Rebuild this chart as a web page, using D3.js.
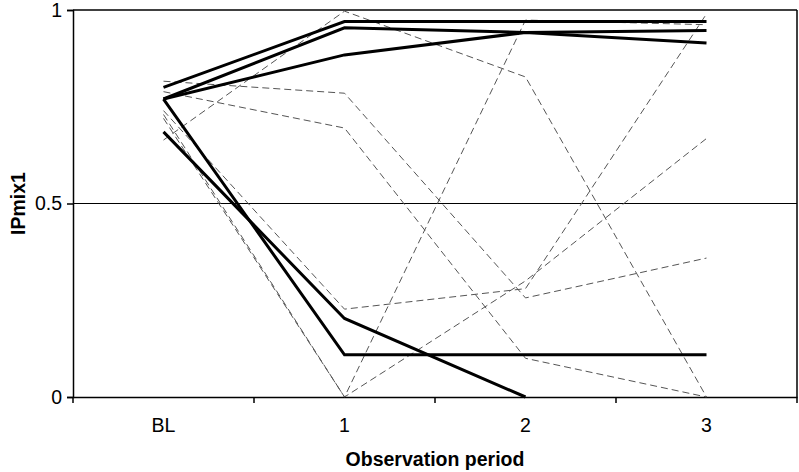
<!DOCTYPE html>
<html>
<head>
<meta charset="utf-8">
<script src="https://cdn.jsdelivr.net/npm/d3@7/dist/d3.min.js"></script>
<style>
  html, body { margin: 0; padding: 0; background: #fff; }
  svg { display: block; font-family: "Liberation Sans", Arial, sans-serif; }
</style>
</head>
<body>
<svg id="chart" width="799" height="472"></svg>
<script>
// ---- data ----
const categories = ["BL", "1", "2", "3"];
const yTicks = [0, 0.5, 1];
const yTitle = "IPmix1";
const xTitle = "Observation period";

// thick solid series
const solidA = [0.80, 0.970, 0.970, 0.970];
const solidB = [0.77, 0.954, 0.942, 0.947];
const solidC = [0.77, 0.884, 0.942, 0.915];
const solidD = [0.77, 0.109, 0.109, 0.109];
const solidE = [0.685, 0.203, 0.0, null];

// thin dashed series
const dash1 = [0.816, 0.785, 0.256, 0.359];
const dash2 = [0.789, 0.695, 0.100, 0.0];
const dash3 = [0.664, 0.997, 0.827, 0.0];
const dash4 = [0.74, 0.227, 0.280, 0.990];
const dash5 = [0.72, 0.0, 0.300, 0.668];
const dash6 = [0.73, 0.0, 0.974, 0.962];

const solidSeries = [solidA, solidB, solidC, solidD, solidE];
const dashedSeries = [dash1, dash2, dash3, dash4, dash5, dash6];

// ---- layout ----
const svg = d3.select("#chart");
const mLeft = 73, mRight = 797, mTop = 10, mBottom = 397;
const fontSize = 19.5;

const x = d3.scaleBand().domain(categories).range([mLeft, mRight]).paddingInner(0).paddingOuter(0);
const cx = c => x(c) + x.bandwidth() / 2;
const y = d3.scaleLinear().domain([0, 1]).range([mBottom, mTop]);

// frame: top & right
svg.append("line").attr("x1", mLeft).attr("x2", mRight).attr("y1", y(1)).attr("y2", y(1))
  .attr("stroke", "#000").attr("stroke-width", 1.5);
svg.append("line").attr("x1", mRight).attr("x2", mRight).attr("y1", mTop).attr("y2", mBottom)
  .attr("stroke", "#000").attr("stroke-width", 1.5);
// 0.5 gridline
svg.append("line").attr("x1", mLeft).attr("x2", mRight).attr("y1", y(0.5)).attr("y2", y(0.5))
  .attr("stroke", "#000").attr("stroke-width", 1);

// y axis
const yAxis = svg.append("g").attr("transform", `translate(${mLeft},0)`)
  .call(d3.axisLeft(y).tickValues(yTicks).tickSize(6).tickPadding(5)
    .tickFormat(d => d === 0.5 ? "0.5" : String(d)));
yAxis.select(".domain").attr("stroke", "#000").attr("stroke-width", 1.5);
yAxis.selectAll(".tick line").attr("stroke", "#000").attr("stroke-width", 1.5);
yAxis.selectAll("text").attr("font-size", fontSize).attr("fill", "#000")
  .attr("font-family", "Liberation Sans, Arial, sans-serif");

// x axis
const xAxis = svg.append("g").attr("transform", `translate(0,${mBottom})`)
  .call(d3.axisBottom(x).tickSize(0).tickPadding(21));
xAxis.select(".domain").attr("stroke", "#000").attr("stroke-width", 1.5);
xAxis.selectAll("text").attr("font-size", fontSize).attr("fill", "#000")
  .attr("font-family", "Liberation Sans, Arial, sans-serif");
// tick marks at category boundaries
const edges = categories.map(c => x(c)).concat([x(categories[categories.length - 1]) + x.bandwidth()]);
svg.append("g").selectAll("line").data(edges).join("line")
  .attr("x1", d => d).attr("x2", d => d).attr("y1", mBottom).attr("y2", mBottom + 6)
  .attr("stroke", "#000").attr("stroke-width", 1.5);

// series
const line = d3.line()
  .defined(d => d[1] != null)
  .x(d => cx(d[0]))
  .y(d => y(d[1]));
const toPts = s => s.map((v, i) => [categories[i], v]);

svg.append("g").selectAll("path").data(dashedSeries).join("path")
  .attr("d", s => line(toPts(s)))
  .attr("fill", "none").attr("stroke", "#555").attr("stroke-width", 1)
  .attr("stroke-dasharray", "7,4");

svg.append("g").selectAll("path").data(solidSeries).join("path")
  .attr("d", s => line(toPts(s)))
  .attr("fill", "none").attr("stroke", "#000").attr("stroke-width", 3)
  .attr("stroke-linejoin", "miter");

// titles
svg.append("text").attr("x", (mLeft + mRight) / 2).attr("y", 466)
  .attr("text-anchor", "middle").attr("font-weight", "bold").attr("font-size", fontSize)
  .text(xTitle);
svg.append("text").attr("transform", `translate(25,${(mTop + mBottom) / 2}) rotate(-90)`)
  .attr("text-anchor", "middle").attr("font-weight", "bold").attr("font-size", fontSize)
  .text(yTitle);
</script>
</body>
</html>
